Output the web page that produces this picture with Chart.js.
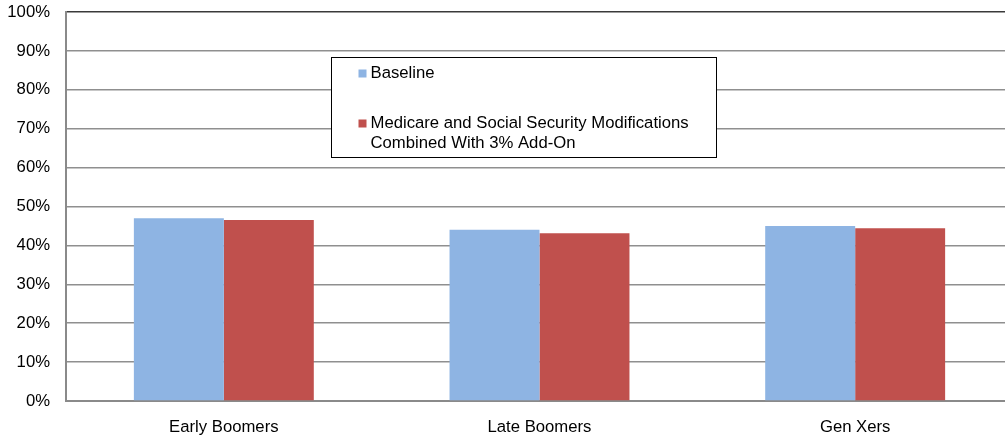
<!DOCTYPE html>
<html>
<head>
<meta charset="utf-8">
<script src="https://cdn.jsdelivr.net/npm/chart.js@4/dist/chart.umd.min.js"></script>
<style>
  html, body { margin: 0; padding: 0; background: #fff; overflow: hidden; }
  #wrap { width: 1013px; height: 439px; }
</style>
</head>
<body>
<div id="wrap"><canvas id="c" width="1013" height="439"></canvas></div>
<script>
// Cohort categories and the share (%) for each scenario
const categories = ['Early Boomers', 'Late Boomers', 'Gen Xers'];
const baselineValues = [47.0, 44.0, 45.0];
const combinedValues = [46.5, 43.1, 44.4];
const seriesLabels = [
  ['Baseline'],
  ['Medicare and Social Security Modifications', 'Combined With 3% Add-On']
];
const yTicks = [0, 10, 20, 30, 40, 50, 60, 70, 80, 90, 100];

const FONT = '"Liberation Sans", Arial, Helvetica, sans-serif';
const FONT_SIZE = 16.7;

// Boxed legend drawn inside the plot area
const boxLegend = {
  id: 'boxLegend',
  afterDraw(chart, args, opts) {
    const ctx = chart.ctx;
    const a = chart.chartArea;
    const x = Math.round(a.left + opts.dx) + 0.5;
    const y = Math.round(a.top + opts.dy) + 0.5;
    ctx.save();
    ctx.fillStyle = '#fff';
    ctx.fillRect(x, y, opts.w, opts.h);
    ctx.strokeStyle = '#000';
    ctx.lineWidth = 1;
    ctx.strokeRect(x, y, opts.w, opts.h);
    ctx.font = FONT_SIZE + 'px ' + FONT;
    ctx.textBaseline = 'middle';
    ctx.textAlign = 'left';
    chart.data.datasets.forEach((ds, i) => {
      const rowY = y + opts.rows[i];
      ctx.fillStyle = ds.backgroundColor;
      ctx.fillRect(x + 27, rowY - 4, 8, 8);
      ctx.fillStyle = '#000';
      const lines = Array.isArray(ds.label) ? ds.label : [ds.label];
      lines.forEach((ln, j) => ctx.fillText(ln, x + 39, rowY + j * 20));
    });
    ctx.restore();
  }
};

new Chart(document.getElementById('c'), {
  type: 'bar',
  data: {
    labels: categories,
    datasets: [
      { label: seriesLabels[0], data: baselineValues, backgroundColor: '#8EB4E3', borderWidth: 0 },
      { label: seriesLabels[1], data: combinedValues, backgroundColor: '#C0504D', borderWidth: 0 }
    ]
  },
  options: {
    responsive: false,
    animation: false,
    events: [],
    layout: { padding: { top: 12, right: 0, bottom: 0, left: 0 } },
    datasets: { bar: { categoryPercentage: 0.57, barPercentage: 1.0 } },
    plugins: {
      legend: { display: false },
      tooltip: { enabled: false },
      boxLegend: { dx: 265, dy: 45, w: 385, h: 100, rows: [16, 66] }
    },
    scales: {
      x: {
        afterFit(s) { s.height = 38; s.paddingLeft = 0; s.paddingRight = 0; },
        grid: { display: false, drawTicks: false },
        border: { display: true, color: '#8a8a8a', width: 2 },
        ticks: { color: '#000', padding: 16, font: { family: FONT, size: FONT_SIZE } }
      },
      y: {
        min: 0,
        max: 100,
        afterFit(s) { s.width = 66; s.paddingTop = 0; s.paddingBottom = 0; },
        afterBuildTicks(s) { s.ticks = yTicks.map(v => ({ value: v })); },
        grid: {
          drawTicks: false,
          color: ctx => (ctx.tick && ctx.tick.value === 100) ? '#3a3a3a' : '#8f8f8f',
          lineWidth: 1.5
        },
        border: { display: true, color: '#8a8a8a', width: 2 },
        ticks: {
          color: '#000',
          padding: 16,
          font: { family: FONT, size: FONT_SIZE },
          callback: v => v + '%'
        }
      }
    }
  },
  plugins: [boxLegend]
});
</script>
</body>
</html>
